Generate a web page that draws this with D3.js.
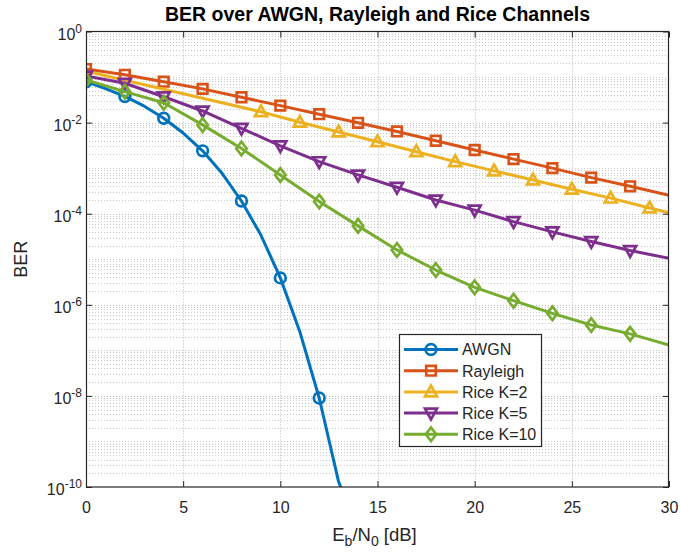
<!DOCTYPE html>
<html>
<head>
<meta charset="utf-8">
<script src="https://cdn.jsdelivr.net/npm/d3@7"></script>
<style>
  html, body { margin: 0; padding: 0; background: #ffffff; }
  svg { display: block; font-family: "Liberation Sans", Arial, Helvetica, sans-serif; }
</style>
</head>
<body>
<svg id="chart" width="681" height="553"></svg>
<script>
// Eb/N0 grids (dB)
const ebn0Awgn   = [0, 1, 2, 3, 4, 5, 6, 7, 8, 9, 10, 11, 12, 13, 14];
const ebn0Even   = [0, 2, 4, 6, 8, 10, 12, 14, 16, 18, 20, 22, 24, 26, 28, 30];
const ebn0RiceK2 = [0, 9, 11, 13, 15, 17, 19, 21, 23, 25, 27, 29, 30];

// Bit error rates
const berAwgn     = [0.079, 0.056, 0.0375, 0.0229, 0.0125, 0.0059, 0.0024, 7.7e-4, 1.9e-4, 3.4e-5, 3.9e-6, 2.6e-7, 9.0e-9, 1.3e-10, 1.0e-11];
const berRayleigh = [0.150, 0.112, 0.079, 0.055, 0.036, 0.0236, 0.0153, 0.0099, 0.0064, 0.0040, 0.0025, 0.00158, 0.00100, 6.2e-4, 4.0e-4, 2.55e-4];
const berRiceK2   = [0.135, 0.0173, 0.0102, 0.0062, 0.0038, 0.0023, 0.00139, 8.7e-4, 5.5e-4, 3.45e-4, 2.2e-4, 1.33e-4, 1.05e-4];
const berRiceK5   = [0.105, 0.073, 0.037, 0.018, 0.0075, 0.0031, 0.00139, 7.1e-4, 3.8e-4, 2.0e-4, 1.2e-4, 6.7e-5, 4.0e-5, 2.45e-5, 1.55e-5, 1.05e-5];
const berRiceK10  = [0.086, 0.048, 0.0273, 0.0089, 0.0027, 7.1e-4, 1.85e-4, 5.4e-5, 1.6e-5, 5.8e-6, 2.42e-6, 1.23e-6, 6.5e-7, 3.6e-7, 2.3e-7, 1.31e-7];

// Where markers sit on each curve (dB)
const markAwgn   = [0, 2, 4, 6, 8, 10, 12];
const markEven   = [0, 2, 4, 6, 8, 10, 12, 14, 16, 18, 20, 22, 24, 26, 28];
const markRiceK2 = [9, 11, 13, 15, 17, 19, 21, 23, 25, 27, 29];

// Axis ticks
const xTicks = [0, 5, 10, 15, 20, 25, 30];
const yTicks = [1e-10, 1e-8, 1e-6, 1e-4, 1e-2, 1];
const yTickExp = ["-10", "-8", "-6", "-4", "-2", "0"];

const names   = ["AWGN", "Rayleigh", "Rice K=2", "Rice K=5", "Rice K=10"];
const colors  = ["#0072BD", "#D95319", "#EDB120", "#7E2F8E", "#77AC30"];
const symbols = ["circle", "square", "triangleUp", "triangleDown", "diamond"];

const series = [
  { x: ebn0Awgn,   y: berAwgn,     m: markAwgn },
  { x: ebn0Even,   y: berRayleigh, m: markEven },
  { x: ebn0RiceK2, y: berRiceK2,   m: markRiceK2 },
  { x: ebn0Even,   y: berRiceK5,   m: markEven },
  { x: ebn0Even,   y: berRiceK10,  m: markEven }
].map((s, i) => ({
  name: names[i], color: colors[i], symbol: symbols[i],
  points: s.x.map((v, j) => ({ x: v, y: s.y[j] })),
  markers: s.x.map((v, j) => ({ x: v, y: s.y[j] })).filter(p => s.m.includes(p.x))
}));

const L = 86, R = 669, T = 31.5, B = 487;
const svg = d3.select("#chart");
const x = d3.scaleLinear().domain([0, 30]).range([L, R]);
const y = d3.scaleLog().domain([1e-10, 1]).range([B, T]);

const axisColor = "#262626";

// Grid
const grid = svg.append("g").attr("fill", "none").attr("stroke-width", 1);
const minorY = y.ticks(20).filter(v => !yTicks.some(t => Math.abs(Math.log10(v) - Math.log10(t)) < 1e-9));
grid.selectAll("line.ym").data(minorY).join("line")
  .attr("x1", L).attr("x2", R)
  .attr("y1", d => Math.round(y(d)) + 0.5).attr("y2", d => Math.round(y(d)) + 0.5)
  .attr("stroke", "#cacaca").attr("stroke-dasharray", "1,2");
grid.selectAll("line.yM").data(yTicks.slice(1, -1)).join("line")
  .attr("x1", L).attr("x2", R)
  .attr("y1", d => Math.round(y(d)) + 0.5).attr("y2", d => Math.round(y(d)) + 0.5)
  .attr("stroke", "#b8b8b8").attr("stroke-dasharray", "1,2");
grid.selectAll("line.xM").data(xTicks.slice(1, -1)).join("line")
  .attr("y1", T).attr("y2", B)
  .attr("x1", d => Math.round(x(d)) + 0.5).attr("x2", d => Math.round(x(d)) + 0.5)
  .attr("stroke", "#b8b8b8").attr("stroke-dasharray", "1,2");

// Curves
svg.append("clipPath").attr("id", "plotclip")
  .append("rect").attr("x", L).attr("y", T).attr("width", R - L).attr("height", B - T);

const line = d3.line().x(d => x(d.x)).y(d => y(d.y));
const plot = svg.append("g").attr("clip-path", "url(#plotclip)");

function markerPath(sym) {
  switch (sym) {
    case "circle": return d3.symbol(d3.symbolCircle, 90)();
    case "square": return "M-4.8,-4.8H4.8V4.8H-4.8Z";
    case "triangleUp": return "M0,-6.3L6,4.4H-6Z";
    case "triangleDown": return "M0,6.3L6,-4.4H-6Z";
    case "diamond": return "M0,-6.8L5.2,0L0,6.8L-5.2,0Z";
  }
}

series.forEach(s => {
  const g = plot.append("g");
  g.append("path").datum(s.points)
    .attr("d", line).attr("fill", "none")
    .attr("stroke", s.color).attr("stroke-width", 3).attr("stroke-linejoin", "round");
  g.selectAll("path.mk").data(s.markers).join("path")
    .attr("transform", d => `translate(${x(d.x)},${y(d.y)})`)
    .attr("d", markerPath(s.symbol))
    .attr("fill", "none").attr("stroke", s.color).attr("stroke-width", 2.7);
});

// Axes (ticks point inward, box on)
const fontTick = 16;
const xb = svg.append("g").attr("transform", `translate(0,${B})`)
  .call(d3.axisBottom(x).tickValues(xTicks).tickSizeInner(-6).tickSizeOuter(0).tickPadding(15));
const xt = svg.append("g").attr("transform", `translate(0,${T})`)
  .call(d3.axisTop(x).tickValues(xTicks).tickSizeInner(-6).tickSizeOuter(0).tickFormat(""));
const yl = svg.append("g").attr("transform", `translate(${L},0)`)
  .call(d3.axisLeft(y).tickValues(yTicks).tickSizeInner(-6).tickSizeOuter(0).tickFormat(() => ""));
const yr = svg.append("g").attr("transform", `translate(${R},0)`)
  .call(d3.axisRight(y).tickValues(yTicks).tickSizeInner(-6).tickSizeOuter(0).tickFormat(""));

[xb, xt, yl, yr].forEach(a => {
  a.select(".domain").remove();
  a.selectAll(".tick line").attr("stroke", axisColor).attr("stroke-width", 1);
});
xb.selectAll(".tick text")
  .attr("font-size", fontTick).attr("fill", axisColor)
  .attr("font-family", "Liberation Sans, Arial, sans-serif");

// y tick labels as 10 with superscript exponent
yl.selectAll(".tick text").each(function(d) {
  const t = d3.select(this)
    .attr("x", -4).attr("dy", null).attr("y", 7.5)
    .attr("text-anchor", "end").attr("font-size", fontTick).attr("fill", axisColor)
    .attr("font-family", "Liberation Sans, Arial, sans-serif");
  t.text(null);
  t.append("tspan").text("10");
  t.append("tspan").attr("dy", -7).attr("font-size", 12).text(yTickExp[yTicks.indexOf(d)]);
});

// Box
svg.append("rect").attr("x", L + 0.5).attr("y", T).attr("width", R - L - 1).attr("height", B - T)
  .attr("fill", "none").attr("stroke", axisColor).attr("stroke-width", 1.2);

// Title and axis labels
svg.append("text").attr("x", (L + R) / 2).attr("y", 21)
  .attr("text-anchor", "middle").attr("font-size", 19.5).attr("font-weight", "bold")
  .attr("fill", "#000").text("BER over AWGN, Rayleigh and Rice Channels");

const xl = svg.append("text").attr("x", (L + R) / 2 - 3).attr("y", 541)
  .attr("text-anchor", "middle").attr("font-size", 18.5).attr("fill", axisColor);
xl.append("tspan").text("E");
xl.append("tspan").attr("dy", 5).attr("font-size", 14).text("b");
xl.append("tspan").attr("dy", -5).text("/N");
xl.append("tspan").attr("dy", 5).attr("font-size", 14).text("0");
xl.append("tspan").attr("dy", -5).text(" [dB]");

svg.append("text").attr("transform", `translate(27,${(T + B) / 2}) rotate(-90)`)
  .attr("text-anchor", "middle").attr("font-size", 18).attr("fill", axisColor).text("BER");

// Legend
const lg = svg.append("g");
const lgX = 399, lgY = 334, lgW = 142, lgH = 112;
lg.append("rect").attr("x", lgX + 0.5).attr("y", lgY + 0.5).attr("width", lgW).attr("height", lgH)
  .attr("fill", "#fff").attr("stroke", axisColor).attr("stroke-width", 1.2);
series.forEach((s, i) => {
  const cy = 349.5 + i * 21.2;
  lg.append("line").attr("x1", 404).attr("x2", 458).attr("y1", cy).attr("y2", cy)
    .attr("stroke", s.color).attr("stroke-width", 3);
  lg.append("path").attr("transform", `translate(431,${cy})`).attr("d", markerPath(s.symbol))
    .attr("fill", "none").attr("stroke", s.color).attr("stroke-width", 2.7);
  lg.append("text").attr("x", 462).attr("y", cy + 5.8)
    .attr("font-size", 16).attr("fill", axisColor).text(s.name);
});
</script>
</body>
</html>
